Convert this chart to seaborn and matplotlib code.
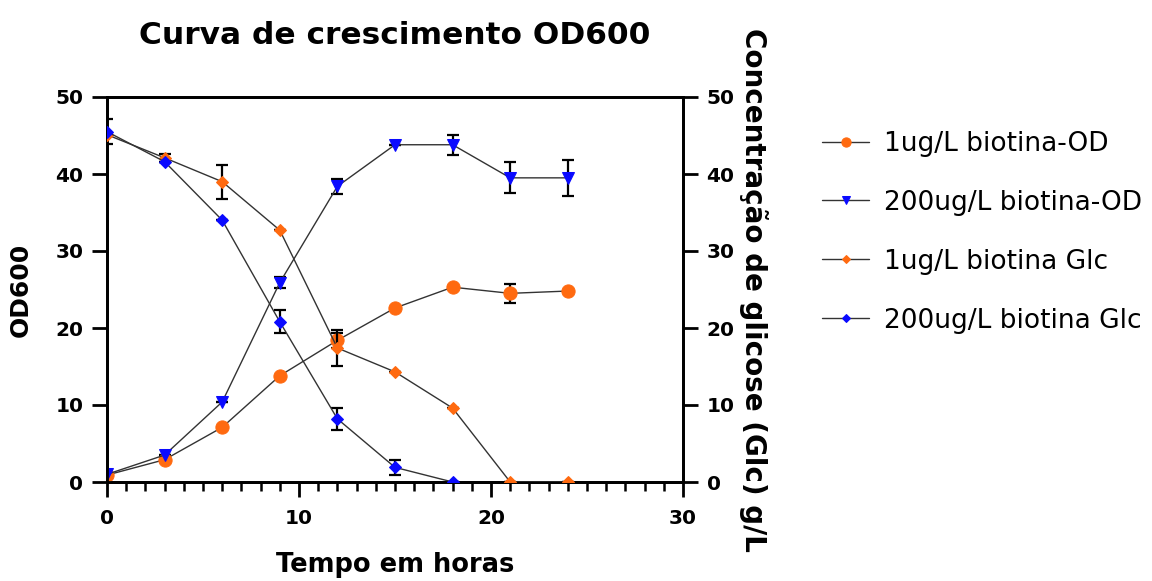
import matplotlib
matplotlib.use("Agg")
import matplotlib.pyplot as plt
from matplotlib.ticker import MultipleLocator
import seaborn as sns
import pandas as pd
import numpy as np

sns.set_style("ticks")
plt.rcParams['font.family'] = ['DejaVu Sans']
plt.rcParams['font.weight'] = 'bold'
for k in ('text.color', 'axes.labelcolor', 'xtick.color', 'ytick.color', 'axes.edgecolor'):
    plt.rcParams[k] = 'black'

time_h = [0, 3, 6, 9, 12, 15, 18, 21, 24]
od_1ug = [0.9, 2.9, 7.1, 13.8, 18.4, 22.6, 25.3, 24.5, 24.8]
od_1ug_err = [0, 0, 0, 0, 1.0, 0, 0, 1.2, 0]
od_200ug = [1.0, 3.5, 10.4, 25.9, 38.4, 43.8, 43.8, 39.5, 39.5]
od_200ug_err = [0, 0, 0, 0.7, 1.0, 0, 1.3, 2.0, 2.3]
glc_1ug = [45.1, 42.1, 39.0, 32.7, 17.4, 14.3, 9.6, 0.0, 0.0]
glc_1ug_err = [0, 0.5, 2.2, 0, 2.3, 0, 0, 0, 0]
glc_200ug = [45.5, 41.6, 34.0, 20.8, 8.2, 1.9, 0.0]
glc_200ug_err = [1.6, 0, 0, 1.5, 1.4, 1.0, 0]
time_glc200 = time_h[:len(glc_200ug)]

labels = ["1ug/L biotina-OD", "200ug/L biotina-OD", "1ug/L biotina Glc", "200ug/L biotina Glc"]
orange = "#FF6A10"
blue = "#0A0AFF"
line_c = "#333333"

fig = plt.figure(figsize=(11.52, 5.81), dpi=100)
ax = fig.add_axes([107/1152, 1-482/581, (683-107)/1152, (482-97)/581])
ax2 = ax.twinx()

def draw(a, x, y, err, label, marker, color, ms):
    df = pd.DataFrame({"t": x, "v": y})
    a.errorbar(x, y, yerr=err, fmt='none', ecolor='black', elinewidth=1.6, capsize=4, capthick=1.6, zorder=2)
    sns.lineplot(data=df, x="t", y="v", ax=a, color=line_c, lw=1.0, marker=marker,
                 markersize=ms, markerfacecolor=color, markeredgecolor=color, label=label, zorder=3)

draw(ax, time_h, od_1ug, od_1ug_err, labels[0], 'o', orange, 9.5)
draw(ax, time_h, od_200ug, od_200ug_err, labels[1], 'v', blue, 8.5)
draw(ax2, time_h, glc_1ug, glc_1ug_err, labels[2], 'D', orange, 6)
draw(ax2, time_glc200, glc_200ug, glc_200ug_err, labels[3], 'D', blue, 6)

for a in (ax, ax2):
    a.set_ylim(0, 50)
    a.set_xlim(0, 30)
    a.yaxis.set_major_locator(MultipleLocator(10))
    for s in a.spines.values():
        s.set_linewidth(2)
        s.set_visible(True)
    a.tick_params(axis='both', which='major', width=2, length=11, labelsize=14.5, direction='out', pad=6)
    a.tick_params(axis='both', which='minor', width=1.8, length=6.5, direction='out')
    if a.get_legend():
        a.get_legend().remove()

ax.xaxis.set_major_locator(MultipleLocator(10))
ax.xaxis.set_minor_locator(MultipleLocator(1))
ax.tick_params(axis='x', which='major', pad=8.5)
for lbl in ax.get_xticklabels() + ax.get_yticklabels() + ax2.get_yticklabels():
    lbl.set_fontweight('bold')

ax.set_xlabel("Tempo em horas", fontsize=18.5, fontweight='bold', labelpad=17)
ax.set_ylabel("OD600", fontsize=18, fontweight='bold', labelpad=16)
ax2.set_ylabel("Concentração de glicose (Glc) g/L", fontsize=20, fontweight='bold',
               rotation=270, labelpad=24)
ax.set_title("Curva de crescimento OD600", fontsize=22.5, fontweight='bold', pad=38)

h1, l1 = ax.get_legend_handles_labels()
h2, l2 = ax2.get_legend_handles_labels()
fig.legend(h1 + h2, l1 + l2, loc='upper left', bbox_to_anchor=(798/1152, 1-107/581),
           frameon=False, prop={'size': 19, 'weight': 'normal'}, labelspacing=1.25,
           handlelength=1.8, handletextpad=0.55, markerscale=0.7)

fig.savefig("out.png", dpi=100)
